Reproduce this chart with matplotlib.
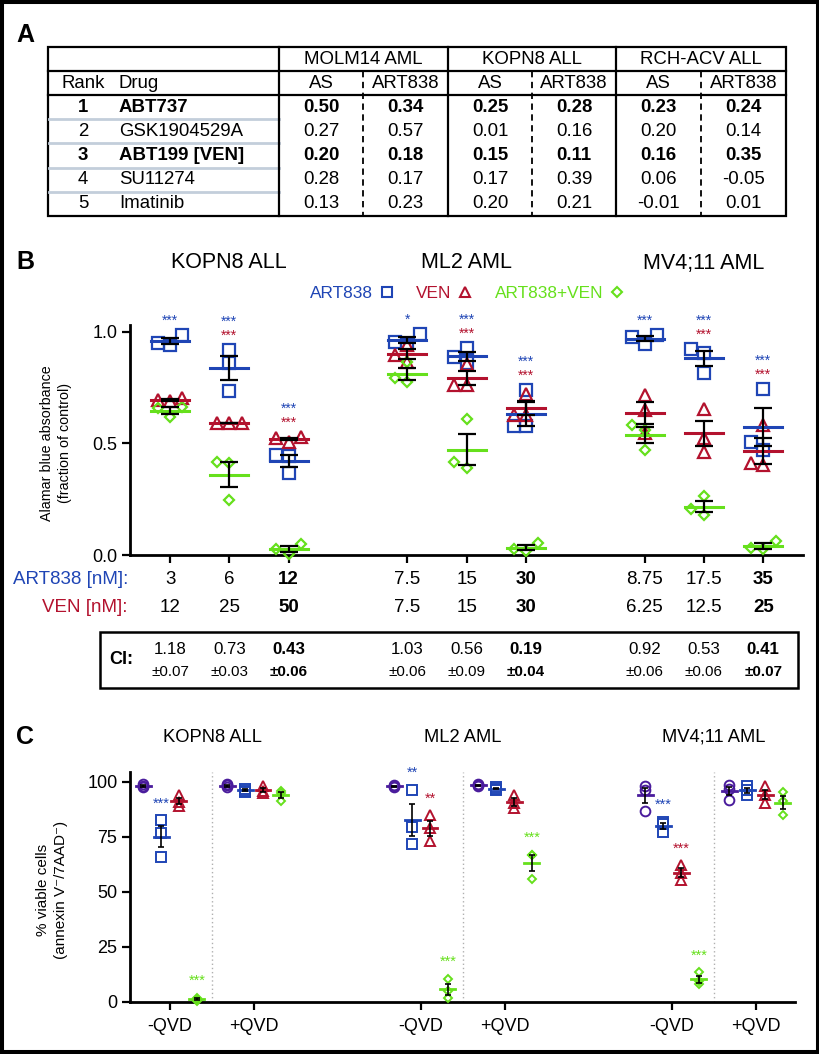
import numpy as np
import matplotlib
matplotlib.use("Agg")
import matplotlib.pyplot as plt
from matplotlib.lines import Line2D
from matplotlib.patches import Rectangle
from matplotlib.transforms import blended_transform_factory

plt.rcParams['font.family'] = ['Liberation Sans', 'DejaVu Sans']

W, H = 820, 1054
BLUE = '#1f45b5'
RED = '#b3122e'
GREEN = '#66e01c'
PURPLE = '#4a1c9c'

# ---- panel A: drug ranking table
CELL_LINES_A = ['MOLM14 AML', 'KOPN8 ALL', 'RCH-ACV ALL']
SUB_COLS = ['AS', 'ART838']
RANKS = ['1', '2', '3', '4', '5']
DRUGS = ['ABT737', 'GSK1904529A', 'ABT199 [VEN]', 'SU11274', 'Imatinib']
BOLD_ROWS = [True, False, True, False, False]
SCORES = [
    [0.50, 0.34, 0.25, 0.28, 0.23, 0.24],
    [0.27, 0.57, 0.01, 0.16, 0.20, 0.14],
    [0.20, 0.18, 0.15, 0.11, 0.16, 0.35],
    [0.28, 0.17, 0.17, 0.39, 0.06, -0.05],
    [0.13, 0.23, 0.20, 0.21, -0.01, 0.01],
]

# ---- panel B: alamar blue, 3 cell lines x 3 doses, triplicates
B_CELLS = ['KOPN8 ALL', 'ML2 AML', 'MV4;11 AML']
ART_NM = ['3', '6', '12', '7.5', '15', '30', '8.75', '17.5', '35']
VEN_NM = ['12', '25', '50', '7.5', '15', '30', '6.25', '12.5', '25']
CI_VAL = ['1.18', '0.73', '0.43', '1.03', '0.56', '0.19', '0.92', '0.53', '0.41']
CI_ERR = ['0.07', '0.03', '0.06', '0.06', '0.09', '0.04', '0.06', '0.06', '0.07']
B_ART = [
    [0.987, 0.949, 0.942], [0.919, 0.862, 0.737], [0.448, 0.446, 0.366],
    [0.990, 0.955, 0.945], [0.927, 0.886, 0.860], [0.740, 0.578, 0.577],
    [0.987, 0.976, 0.946], [0.922, 0.904, 0.818], [0.743, 0.508, 0.471],
]
B_VEN = [
    [0.703, 0.695, 0.690], [0.590, 0.590, 0.590], [0.528, 0.525, 0.508],
    [0.942, 0.897, 0.867], [0.855, 0.762, 0.760], [0.722, 0.628, 0.628],
    [0.717, 0.650, 0.546], [0.653, 0.523, 0.463], [0.583, 0.414, 0.404],
]
B_COMBO = [
    [0.665, 0.660, 0.618], [0.416, 0.414, 0.247], [0.050, 0.025, 0.005],
    [0.867, 0.792, 0.777], [0.608, 0.418, 0.389], [0.055, 0.027, 0.018],
    [0.583, 0.560, 0.471], [0.266, 0.206, 0.179], [0.064, 0.030, 0.027],
]
B_STARS_ART = ['***', '***', '***', '*', '***', '***', '***', '***', '***']
B_STARS_VEN = ['', '***', '***', '', '***', '***', '', '***', '***']

# ---- panel C: viability +/- QVD
C_CELLS = ['KOPN8 ALL', 'ML2 AML', 'MV4;11 AML']
C_CONDS = ['-QVD', '+QVD']
C_CTRL = [[99, 97.5, 98], [99, 98.5, 97.5], [98.5, 98, 97.5],
          [99, 98.5, 98], [98, 96.5, 87], [98.5, 97, 92]]
C_ART = [[82.7, 76.8, 66], [97, 96, 95.5], [96.5, 79.5, 72],
         [97.5, 97, 96.5], [82, 80.7, 77.3], [98, 96.4, 94]]
C_VEN = [[94, 91, 89], [98, 96, 95], [84.8, 79.2, 73],
         [94, 90.6, 88], [62.3, 58.5, 55.6], [98, 94, 90.6]]
C_COMBO = [[2, 1, 0.5], [96, 95, 91.5], [10.6, 5, 2],
           [67, 66.8, 56], [13.5, 9.6, 8.2], [95.2, 91.5, 85]]
C_STARS = [
    ['', '***', '', '***'], ['', '', '', ''],
    ['', '**', '**', '***'], ['', '', '', '***'],
    ['', '***', '***', '***'], ['', '', '', ''],
]


def sem(v):
    v = np.asarray(v, float)
    return v.std(ddof=1) / np.sqrt(len(v))


def swarm(vals, step, xs, ys, size):
    """simple beeswarm offsets so overlapping points spread sideways"""
    vals = np.asarray(vals, float)
    offs = np.zeros(len(vals))
    placed = []
    for i in np.argsort(vals):
        for k in [0, -1, 1, -2, 2]:
            dx = k * step
            if all(np.hypot((dx - px) * xs, (vals[i] - py) * ys) >= size for px, py in placed):
                break
        offs[i] = dx
        placed.append((dx, vals[i]))
    return offs


fig = plt.figure(figsize=(W / 100, H / 100), dpi=100)
ov = fig.add_axes([0, 0, 1, 1])
ov.set_xlim(0, W)
ov.set_ylim(H, 0)
ov.axis('off')


def px_axes(left, top, right, bottom):
    return fig.add_axes([left / W, 1 - bottom / H, (right - left) / W, (bottom - top) / H])


# ================= panel A =================
ov.text(16, 35, 'A', fontsize=18, fontweight='bold', va='center')
tl, tr = 48, 786
row_edges = [47, 71, 95, 119, 143, 168, 192, 216]
col_edges = [48, 279, 448, 616, 786]
lw_t = 1.6
ov.add_patch(Rectangle((tl, row_edges[0]), tr - tl, row_edges[-1] - row_edges[0],
                       fill=False, lw=lw_t, ec='black'))
for y in row_edges[1:3]:
    ov.plot([tl, tr], [y, y], color='black', lw=lw_t)
for y in row_edges[3:-1]:
    ov.plot([tl + 1, col_edges[1]], [y, y], color='#c3cedb', lw=2)
for x in col_edges[1:-1]:
    ov.plot([x, x], [row_edges[0], row_edges[-1]], color='black', lw=lw_t)
for c in range(3):
    x0, x1 = col_edges[c + 1], col_edges[c + 2]
    xm = (x0 + x1) / 2
    ov.plot([xm, xm], [row_edges[1], row_edges[-1]], color='black', lw=1.3,
            ls=(0, (3.5, 2.5)))
    ov.text(xm, (row_edges[0] + row_edges[1]) / 2, CELL_LINES_A[c], fontsize=13.4,
            ha='center', va='center')
    for s in range(2):
        ov.text((x0 + xm) / 2 if s == 0 else (xm + x1) / 2,
                (row_edges[1] + row_edges[2]) / 2, SUB_COLS[s], fontsize=13.4,
                ha='center', va='center')
yh = (row_edges[1] + row_edges[2]) / 2
ov.text(83, yh, 'Rank', fontsize=13.4, ha='center', va='center')
ov.text(119, yh, 'Drug', fontsize=13.4, ha='left', va='center')
for r in range(len(DRUGS)):
    yc = (row_edges[r + 2] + row_edges[r + 3]) / 2
    fw = 'bold' if BOLD_ROWS[r] else 'normal'
    ov.text(83, yc, RANKS[r], fontsize=13.4, ha='center', va='center', fontweight=fw)
    ov.text(119, yc, DRUGS[r], fontsize=13.4, ha='left', va='center', fontweight=fw)
    for k in range(6):
        c, s = divmod(k, 2)
        x0, x1 = col_edges[c + 1], col_edges[c + 2]
        xm = (x0 + x1) / 2
        xc = (x0 + xm) / 2 if s == 0 else (xm + x1) / 2
        ov.text(xc, yc, f'{SCORES[r][k]:.2f}', fontsize=13.4, ha='center',
                va='center', fontweight=fw)

# ================= panel B =================
ov.text(16, 262, 'B', fontsize=18, fontweight='bold', va='center')
axB = px_axes(130, 325, 803, 555)
bpos = np.array([4 * i + j + 1 for i in range(3) for j in range(3)], float)
series_B = [(B_ART, 's', BLUE, 8), (B_VEN, '^', RED, 8.5), (B_COMBO, 'D', GREEN, 5.2)]
for vals_all, mk, col, ms in series_B:
    for g, vals in enumerate(vals_all):
        offs = swarm(vals, 0.21, 59.3, 223, 12)
        axB.plot(bpos[g] + offs, vals, ls='none', marker=mk, mfc='none', mec=col,
                 ms=ms, mew=1.6, clip_on=False, zorder=3)
for vals_all, mk, col, ms in series_B:
    for g, vals in enumerate(vals_all):
        m = np.mean(vals)
        axB.plot([bpos[g] - 0.32, bpos[g] + 0.32], [m, m], color=col, lw=2.2,
                 clip_on=False, zorder=4)
        axB.errorbar(bpos[g], m, yerr=sem(vals), fmt='none', ecolor='black',
                     elinewidth=1.6, capsize=6.8, capthick=1.6, zorder=5, clip_on=False)
for g in range(9):
    top = max(max(B_ART[g]), max(B_VEN[g]), max(B_COMBO[g])) + 0.065
    if B_STARS_VEN[g]:
        axB.text(bpos[g], top, B_STARS_VEN[g], color=RED, fontsize=10,
                 ha='center', va='center')
        top += 0.062
    axB.text(bpos[g], top, B_STARS_ART[g], color=BLUE, fontsize=10,
             ha='center', va='center')

axB.set_xlim(0.325, 11.67)
axB.set_ylim(0, 1.031)
axB.set_yticks([0, 0.5, 1.0])
axB.set_yticklabels(['0.0', '0.5', '1.0'])
axB.set_xticks(bpos)
axB.set_xticklabels([])
axB.tick_params(labelsize=13, width=1.6, length=5.5)
for sp in ['top', 'right']:
    axB.spines[sp].set_visible(False)
for sp in ['left', 'bottom']:
    axB.spines[sp].set_linewidth(2)
axB.patch.set_alpha(0)

ov.text(56, 443, 'Alamar blue absorbance\n(fraction of control)', rotation=90,
        fontsize=10.3, ha='center', va='center', linespacing=1.35)

trB = blended_transform_factory(axB.transData, ov.transData)
for i in range(3):
    ov.text(bpos[3 * i + 1], 263, B_CELLS[i], transform=trB, fontsize=15.5,
            ha='center', va='center')
handles = [
    Line2D([], [], ls='none', marker='s', mfc='none', mec=BLUE, ms=7, mew=1.5, label='ART838'),
    Line2D([], [], ls='none', marker='^', mfc='none', mec=RED, ms=7.5, mew=1.5, label='VEN'),
    Line2D([], [], ls='none', marker='D', mfc='none', mec=GREEN, ms=4.8, mew=1.5, label='ART838+VEN'),
]
fig.legend(handles=handles, loc='center', bbox_to_anchor=(467 / W, 1 - 293 / H), ncol=3,
           frameon=False, markerfirst=False, fontsize=12.4, handlelength=0.8,
           handletextpad=0.4, columnspacing=1.3, labelcolor='markeredgecolor')

ov.text(128, 580, 'ART838 [nM]:', color=BLUE, fontsize=13.5, ha='right', va='center')
ov.text(128, 607, 'VEN [nM]:', color=RED, fontsize=13.5, ha='right', va='center')
ov.add_patch(Rectangle((100, 632), 698, 56, fill=False, lw=1.8, ec='black'))
ov.text(121, 660, 'CI:', fontsize=13, fontweight='bold', ha='center', va='center')
for g in range(9):
    fw = 'bold' if g % 3 == 2 else 'normal'
    ov.text(bpos[g], 580, ART_NM[g], transform=trB, fontsize=13.5, ha='center',
            va='center', fontweight=fw)
    ov.text(bpos[g], 607, VEN_NM[g], transform=trB, fontsize=13.5, ha='center',
            va='center', fontweight=fw)
    ov.text(bpos[g], 649, CI_VAL[g], transform=trB, fontsize=12.2, ha='center',
            va='center', fontweight=fw)
    ov.text(bpos[g], 672, '\u00b1' + CI_ERR[g], transform=trB, fontsize=10.9,
            ha='center', va='center', fontweight=fw)

# ================= panel C =================
ov.text(16, 737, 'C', fontsize=18, fontweight='bold', va='center')
axC = px_axes(130, 772, 795, 1002)
cell_step, cond_step = 14.1, 4.72
cpos = np.array([i * cell_step + j * cond_step for i in range(3) for j in range(2)])
series_C = [(C_CTRL, 'o', PURPLE, 7), (C_ART, 's', BLUE, 6.5),
            (C_VEN, '^', RED, 7.5), (C_COMBO, 'D', GREEN, 4.5)]
for s, (vals_all, mk, col, ms) in enumerate(series_C):
    for g, vals in enumerate(vals_all):
        x = cpos[g] + (s - 1.5)
        axC.plot([x] * len(vals), vals, ls='none', marker=mk, mfc='none', mec=col,
                 ms=ms, mew=1.4, clip_on=False, zorder=3)
for s, (vals_all, mk, col, ms) in enumerate(series_C):
    for g, vals in enumerate(vals_all):
        x = cpos[g] + (s - 1.5)
        m = np.mean(vals)
        axC.plot([x - 0.42, x + 0.42], [m, m], color=col, lw=2, clip_on=False, zorder=4)
        axC.errorbar(x, m, yerr=sem(vals), fmt='none', ecolor='black', elinewidth=1.2,
                     capsize=2.4, capthick=1.2, zorder=5, clip_on=False)
        if C_STARS[g][s]:
            axC.text(x, max(vals) + 7.5, C_STARS[g][s], color=col, fontsize=10.5,
                     ha='center', va='center', clip_on=False)
trC = blended_transform_factory(axC.transData, ov.transData)
for i in range(3):
    xs = i * cell_step + cond_step / 2
    axC.axvline(xs, color='#b0b0b0', lw=1, ls=(0, (1, 2)), zorder=1)
    ov.text(xs, 737, C_CELLS[i], transform=trC, fontsize=13.2, ha='center', va='center')

axC.set_xlim(-2.25, 35.1)
axC.set_ylim(0, 104.5)
axC.set_yticks([0, 25, 50, 75, 100])
axC.set_xticks(cpos)
axC.set_xticklabels(C_CONDS * 3)
axC.tick_params(labelsize=13, width=1.6, length=5.5)
axC.tick_params(axis='x', pad=6)
for sp in ['top', 'right']:
    axC.spines[sp].set_visible(False)
for sp in ['left', 'bottom']:
    axC.spines[sp].set_linewidth(2)
axC.patch.set_alpha(0)
ov.text(52, 890, '% viable cells\n(annexin V\u207b/7AAD\u207b)', rotation=90,
        fontsize=11, ha='center', va='center', linespacing=1.3)

fig.patches.append(Rectangle((0, 0), 1, 1, transform=fig.transFigure, fill=False,
                             lw=5.8, ec='black'))
fig.savefig('out.png', dpi=100)
